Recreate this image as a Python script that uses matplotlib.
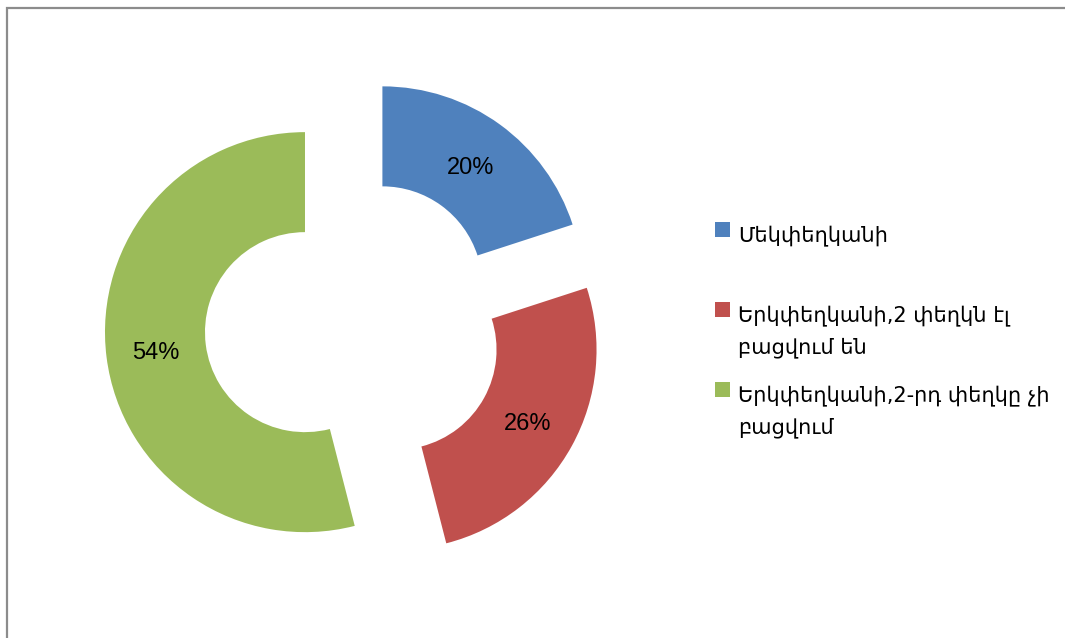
import matplotlib.pyplot as plt
from matplotlib.patches import Rectangle

labels = ['Մեկփեղկանի',
          'Երկփեղկանի,2 փեղկն էլ\nբացվում են',
          'Երկփեղկանի,2-րդ փեղկը չի\nբացվում']
shares = [20, 26, 54]
colors = ['#4F81BD', '#C0504D', '#9BBB59']

W, H = 1065, 638
fig = plt.figure(figsize=(W / 100, H / 100), dpi=100)
ax = fig.add_axes([0, 0, 1, 1])

# donut, everything in pixel units (y up)
wedges, texts, autotexts = ax.pie(
    shares, colors=colors, startangle=90, counterclock=False,
    center=(353.6, H - 326), radius=200, explode=[49] * 3,
    wedgeprops=dict(width=100, linewidth=0),
    autopct='%1.0f%%', pctdistance=0.75,
    textprops=dict(fontsize=17, family='Liberation Sans', color='black'))
for t in autotexts:
    t.set_va('center_baseline')

ax.set_xlim(0, W)
ax.set_ylim(0, H)
ax.set_aspect('auto')
ax.axis('off')

# legend drawn by hand: square aligned with the first text line
sq = 15
y0, step, line_h = 229.5, 80, 32
for i, (lab, col) in enumerate(zip(labels, colors)):
    yc = y0 + i * step
    ax.add_patch(Rectangle((715, H - yc - sq / 2), sq, sq,
                           facecolor=col, edgecolor='none'))
    for j, line in enumerate(lab.split('\n')):
        ax.text(738, H - (yc + 12 + j * line_h), line, fontsize=15,
                family='DejaVu Sans', va='baseline', ha='left')

# outer chart border (cropped on the right and bottom)
fig.patches.append(Rectangle((7, -10), W + 20, H - 7 + 10 - 0.5,
                             transform=None, fill=False,
                             edgecolor='#8C8C8C', linewidth=1.6))

fig.savefig('out.png', dpi=100)
